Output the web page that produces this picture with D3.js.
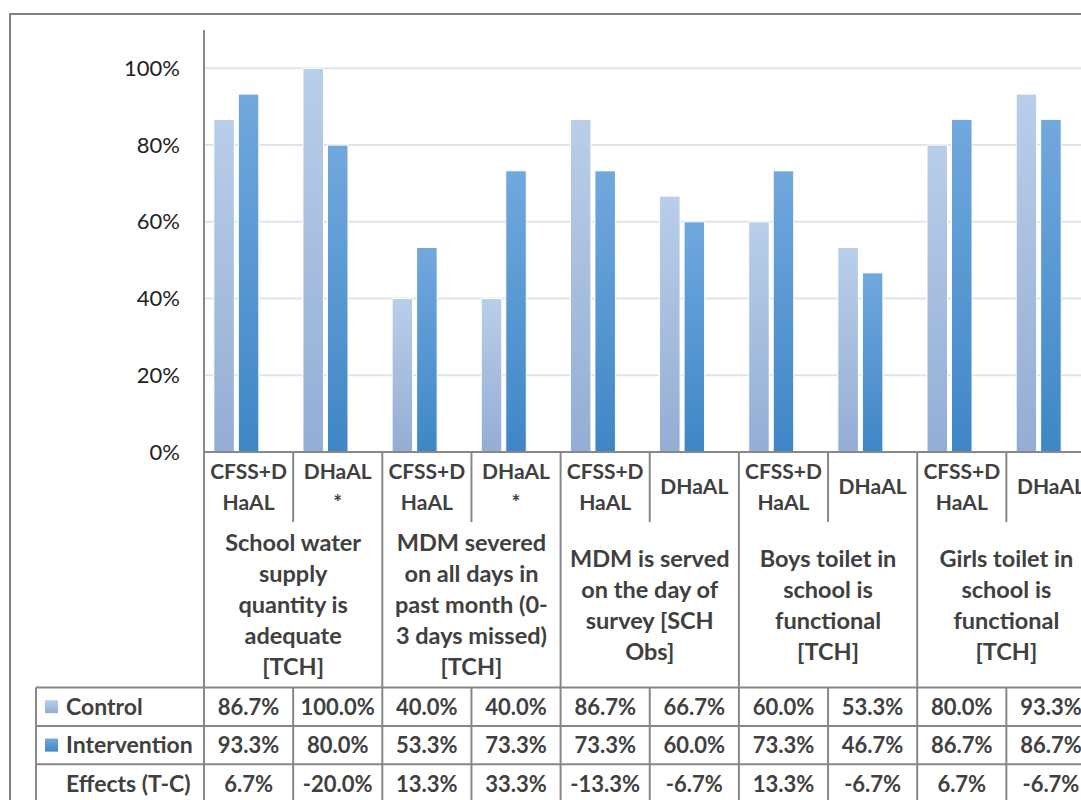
<!DOCTYPE html>
<html>
<head>
<meta charset="utf-8">
<script src="https://cdn.jsdelivr.net/npm/d3@7"></script>
<style>
  body { margin: 0; background: #fff; }
  svg text { font-family: Lato, "Open Sans", sans-serif; }
</style>
</head>
<body>
<div id="chart"></div>
<script>
// data
const groups = [
    ["School water", "supply", "quantity is", "adequate", "[TCH]"],
    ["MDM severed", "on all days in", "past month (0-", "3 days missed)", "[TCH]"],
    ["MDM is served", "on the day of", "survey [SCH", "Obs]"],
    ["Boys toilet in", "school is", "functional", "[TCH]"],
    ["Girls toilet in", "school is", "functional", "[TCH]"]
]
const subLabels = [
    ["CFSS+D", "HaAL"], ["DHaAL", "*"],
    ["CFSS+D", "HaAL"], ["DHaAL", "*"],
    ["CFSS+D", "HaAL"], ["DHaAL"],
    ["CFSS+D", "HaAL"], ["DHaAL"],
    ["CFSS+D", "HaAL"], ["DHaAL"]
]
const seriesNames = ["Control", "Intervention", "Effects (T-C)"]
const control = [86.7, 100.0, 40.0, 40.0, 86.7, 66.7, 60.0, 53.3, 80.0, 93.3]
const intervention = [93.3, 80.0, 53.3, 73.3, 73.3, 60.0, 73.3, 46.7, 86.7, 86.7]
const effects = [6.7, -20.0, 13.3, 33.3, -13.3, -6.7, 13.3, -6.7, 6.7, -6.7]
const yTicks = [0, 20, 40, 60, 80, 100]

const W = 1081, H = 800
const plotLeft = 204, plotRight = 1095.5, base = 452, plotTop = 30
const lineColor = "#878787"
const textColor = "#404040"

const svg = d3.select("#chart").append("svg")
    .attr("width", W)
    .attr("height", H)

const defs = svg.append("defs")
const grads = [["gC", "#b9cee9", "#93add4"], ["gI", "#71a8de", "#3f86c6"]]
grads.forEach(g => {
    const lg = defs.append("linearGradient").attr("id", g[0])
        .attr("x1", 0).attr("y1", 0).attr("x2", 0).attr("y2", 1)
    lg.append("stop").attr("offset", "0%").attr("stop-color", g[1])
    lg.append("stop").attr("offset", "100%").attr("stop-color", g[2])
})

const subIdx = d3.range(subLabels.length)
const x = d3.scaleBand().domain(subIdx).range([plotLeft, plotRight])
const xs = d3.scaleBand().domain(seriesNames).range([0, x.bandwidth()])
    .paddingInner(0.163).paddingOuter(0.4)
const y = d3.scaleLinear().domain([0, 110]).range([base, plotTop])

// outer frame
svg.append("rect")
    .attr("x", 10).attr("y", 14)
    .attr("width", 1200).attr("height", 900)
    .attr("fill", "none")
    .attr("stroke", "#7f7f7f")
    .attr("stroke-width", 2)

// gridlines
svg.selectAll(".grid")
    .data(yTicks.filter(d => d > 0))
    .join("line")
    .attr("class", "grid")
    .attr("x1", plotLeft).attr("x2", W)
    .attr("y1", d => y(d)).attr("y2", d => y(d))
    .attr("stroke", "#dfe3ea")
    .attr("stroke-width", 2)

// y axis labels
const yAxis = svg.append("g")
    .attr("transform", `translate(${plotLeft},0)`)
    .call(d3.axisLeft(y).tickValues(yTicks).tickFormat(d => d + "%").tickSize(0).tickPadding(24))
yAxis.select(".domain").remove()
yAxis.selectAll("text")
    .style("font-family", "Lato, sans-serif")
    .style("font-size", "22px")
    .attr("fill", "#222")

// bars
const barData = []
subIdx.forEach(i => {
    barData.push({i: i, s: seriesNames[0], v: control[i], fill: "url(#gC)"})
    barData.push({i: i, s: seriesNames[1], v: intervention[i], fill: "url(#gI)"})
})
svg.selectAll(".bar")
    .data(barData)
    .join("rect")
    .attr("class", "bar")
    .attr("x", d => x(d.i) + xs(d.s))
    .attr("width", xs.bandwidth())
    .attr("y", d => y(d.v))
    .attr("height", d => base - y(d.v))
    .attr("fill", d => d.fill)
    .attr("stroke", "#ffffff")
    .attr("stroke-width", 1)

// axis lines
svg.append("line")
    .attr("x1", plotLeft).attr("x2", plotLeft)
    .attr("y1", plotTop).attr("y2", H)
    .attr("stroke", lineColor).attr("stroke-width", 2)
svg.append("line")
    .attr("x1", plotLeft).attr("x2", W)
    .attr("y1", base).attr("y2", base)
    .attr("stroke", lineColor).attr("stroke-width", 2)

// group separators
const groupW = x.step() * 2
svg.selectAll(".gsep")
    .data(d3.range(1, groups.length + 1))
    .join("line")
    .attr("class", "gsep")
    .attr("x1", d => plotLeft + d * groupW).attr("x2", d => plotLeft + d * groupW)
    .attr("y1", base).attr("y2", H)
    .attr("stroke", lineColor).attr("stroke-width", 2)

// sub separators (tick + table column)
const subSep = d3.range(groups.length).map(g => plotLeft + g * groupW + x.step())
svg.selectAll(".ssep")
    .data(subSep)
    .join("line")
    .attr("class", "ssep")
    .attr("x1", d => d).attr("x2", d => d)
    .attr("y1", base).attr("y2", 522)
    .attr("stroke", lineColor).attr("stroke-width", 2)

// sub labels
const subG = svg.selectAll(".sub")
    .data(subIdx)
    .join("text")
    .attr("class", "sub")
    .attr("text-anchor", "middle")
    .attr("fill", textColor)
    .style("font-size", "21px")
    .style("font-weight", "bold")
subG.each(function(i) {
    const lines = subLabels[i]
    const t = d3.select(this)
    lines.forEach((ln, k) => {
        t.append("tspan")
            .attr("x", x(i) + x.bandwidth() / 2)
            .attr("y", 487 + 7 + (k - (lines.length - 1) / 2) * 31)
            .text(ln)
    })
})

// group labels
svg.selectAll(".grp")
    .data(groups)
    .join("text")
    .attr("class", "grp")
    .attr("text-anchor", "middle")
    .attr("fill", textColor)
    .style("font-size", "23.5px")
    .style("font-weight", "bold")
    .each(function(lines, g) {
        const t = d3.select(this)
        lines.forEach((ln, k) => {
            t.append("tspan")
                .attr("x", plotLeft + g * groupW + groupW / 2)
                .attr("y", 605 + 8 + (k - (lines.length - 1) / 2) * 31)
                .text(ln)
        })
    })

// data table
const rowTop = 687.5, rowH = 38.4, tableLeft = 36
const rows = [control, intervention, effects]
svg.selectAll(".hrow")
    .data(d3.range(rows.length + 1))
    .join("line")
    .attr("class", "hrow")
    .attr("x1", tableLeft).attr("x2", W)
    .attr("y1", d => rowTop + d * rowH).attr("y2", d => rowTop + d * rowH)
    .attr("stroke", lineColor).attr("stroke-width", 2)
svg.append("line")
    .attr("x1", tableLeft).attr("x2", tableLeft)
    .attr("y1", rowTop).attr("y2", H)
    .attr("stroke", lineColor).attr("stroke-width", 2)
svg.selectAll(".tsep")
    .data(subSep)
    .join("line")
    .attr("class", "tsep")
    .attr("x1", d => d).attr("x2", d => d)
    .attr("y1", rowTop).attr("y2", H)
    .attr("stroke", lineColor).attr("stroke-width", 2)

const legendFill = ["url(#gC)", "url(#gI)", null]
rows.forEach((vals, r) => {
    const cy = rowTop + r * rowH + rowH / 2
    if (legendFill[r]) {
        svg.append("rect")
            .attr("x", 45).attr("y", cy - 6.5)
            .attr("width", 13).attr("height", 13)
            .attr("fill", legendFill[r])
    }
    svg.append("text")
        .attr("x", 66).attr("y", cy + 8)
        .attr("fill", textColor)
        .style("font-size", "23px")
        .style("font-weight", "bold")
        .text(seriesNames[r])
    svg.selectAll(".cell" + r)
        .data(vals)
        .join("text")
        .attr("class", "cell" + r)
        .attr("x", (d, i) => x(i) + x.bandwidth() / 2)
        .attr("y", cy + 8)
        .attr("text-anchor", "middle")
        .attr("fill", textColor)
        .style("font-size", "22px")
        .style("font-weight", "bold")
        .text(d => d.toFixed(1) + "%")
})
</script>
</body>
</html>
